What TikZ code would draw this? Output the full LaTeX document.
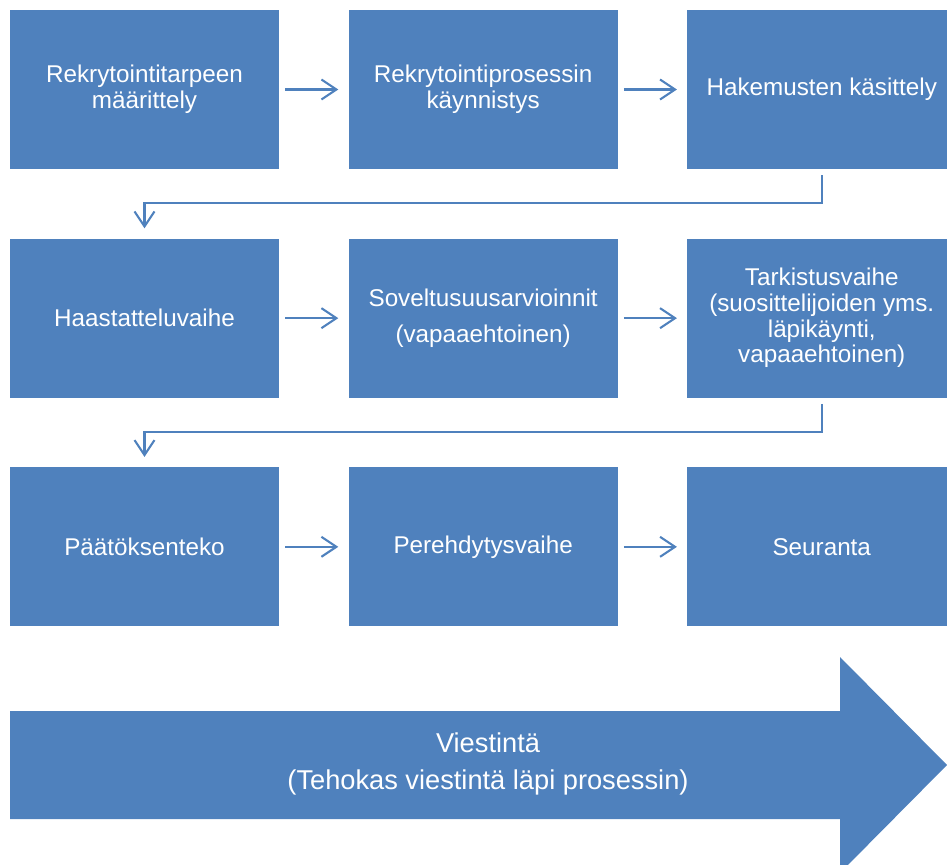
\documentclass[tikz,border=0pt]{standalone}
\usepackage{fontspec}
\setmainfont{Liberation Sans}
\usepackage{tikz}
\usetikzlibrary{positioning}
\usetikzlibrary{arrows.meta}
\definecolor{boxblue}{HTML}{4F81BD}
\tikzset{
    bluebox/.style={
        fill=boxblue,
        text=white,
        minimum width=5.38cm,
        minimum height=3.18cm,
        align=center,
        inner sep=2pt,
        font=\fontsize{13.8}{14.6}\selectfont
    },
    % nuolet laatikoiden välillä
    bluearrow/.style={
        line width=1.2pt,
        boxblue,
        shorten <=0.12cm,
        shorten >=0.2cm,
        -{Straight Barb[length=0.3cm, width=0.4cm, line width=1.2pt]}
    }
}
\begin{document}
\begin{tikzpicture}[x=0.02cm,y=-0.02cm]
    \useasboundingbox (0,0) rectangle (947,865);
    % ===================== rivi 1 =====================
    \node[bluebox] (tarve) at (144.5,89.5) {Rekrytointitarpeen\\määrittely};
    \node[bluebox,right=1.38cm of tarve] (kaynnistys) {Rekrytointiprosessin\\käynnistys};
    \node[bluebox,right=1.38cm of kaynnistys] (kasittely) {Hakemusten käsittely};
    % ===================== rivi 2 =====================
    \node[bluebox,below=1.38cm of tarve] (haastattelu) {Haastatteluvaihe};
    \node[bluebox,right=1.38cm of haastattelu] (soveltuvuus) {Soveltusuusarvioinnit\\[5.5pt](vapaaehtoinen)};
    \node[bluebox,right=1.38cm of soveltuvuus] (tarkistus) {Tarkistusvaihe\\(suosittelijoiden yms.\\läpikäynti,\\vapaaehtoinen)};
    % ===================== rivi 3 =====================
    \node[bluebox,below=1.38cm of haastattelu] (paatos) {Päätöksenteko};
    \node[bluebox,right=1.38cm of paatos] (perehdytys) {Perehdytysvaihe};
    \node[bluebox,right=1.38cm of perehdytys] (seuranta) {Seuranta};

    \draw[bluearrow] (tarve) -- (kaynnistys);
    \draw[bluearrow] (kaynnistys) -- (kasittely);
    \draw[bluearrow] (kasittely.south) -- ++(0,34) -| (haastattelu.north);
    \draw[bluearrow] (haastattelu) -- (soveltuvuus);
    \draw[bluearrow] (soveltuvuus) -- (tarkistus);
    \draw[bluearrow] (tarkistus.south) -- ++(0,34) -| (paatos.north);
    \draw[bluearrow] (paatos) -- (perehdytys);
    \draw[bluearrow] (perehdytys) -- (seuranta);

    % ===================== viestintä =====================
    \fill[boxblue] (10,711) -- (840,711) -- (840,657) -- (947,765)
        -- (840,873) -- (840,819) -- (10,819) -- cycle;
    \node[text=white,align=center,font=\fontsize{15.5}{18.5}\selectfont] (viestinta) at (488,764)
        {Viestintä\\[2.5pt](Tehokas viestintä läpi prosessin)};
\end{tikzpicture}
\end{document}
